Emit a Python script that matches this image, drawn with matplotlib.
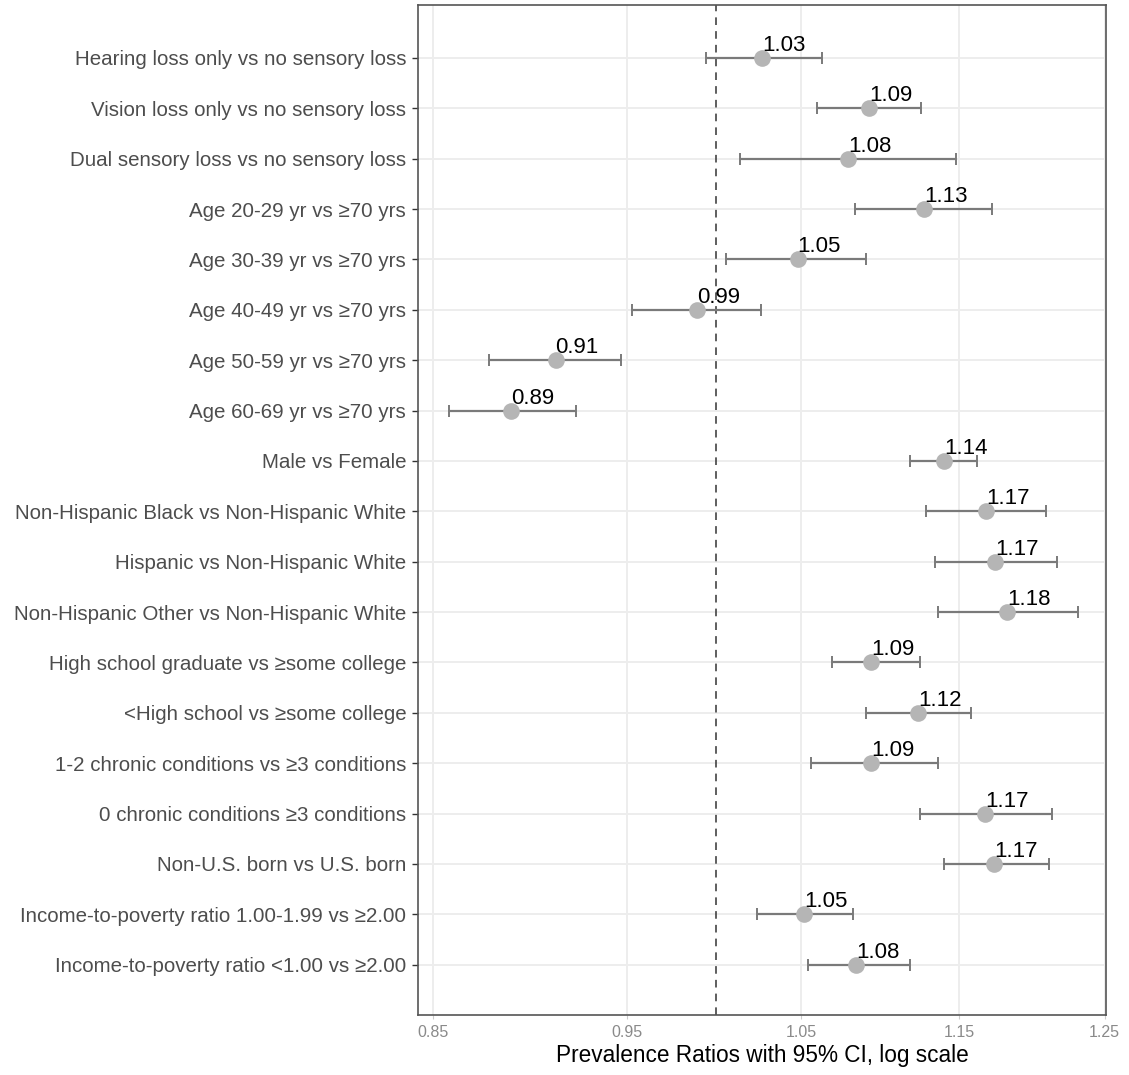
import matplotlib as mpl
from matplotlib import pyplot as plt
from matplotlib.ticker import NullLocator

mpl.rc('font', family=['Liberation Sans', 'DejaVu Sans'])

# Comparisons, top to bottom
labels = [
    "Hearing loss only vs no sensory loss",
    "Vision loss only vs no sensory loss",
    "Dual sensory loss vs no sensory loss",
    "Age 20-29 yr vs \u226570 yrs",
    "Age 30-39 yr vs \u226570 yrs",
    "Age 40-49 yr vs \u226570 yrs",
    "Age 50-59 yr vs \u226570 yrs",
    "Age 60-69 yr vs \u226570 yrs",
    "Male vs Female",
    "Non-Hispanic Black vs Non-Hispanic White",
    "Hispanic vs Non-Hispanic White",
    "Non-Hispanic Other vs Non-Hispanic White",
    "High school graduate vs \u2265some college",
    "<High school vs \u2265some college",
    "1-2 chronic conditions vs \u22653 conditions",
    "0 chronic conditions \u22653 conditions",
    "Non-U.S. born vs U.S. born",
    "Income-to-poverty ratio 1.00-1.99 vs \u22652.00",
    "Income-to-poverty ratio <1.00 vs \u22652.00",
]
pr = [1.027, 1.092, 1.079, 1.127, 1.048, 0.989, 0.912, 0.889, 1.140, 1.168,
      1.174, 1.182, 1.093, 1.123, 1.093, 1.167, 1.173, 1.052, 1.084]
ci_low = [0.994, 1.060, 1.014, 1.083, 1.006, 0.953, 0.878, 0.858, 1.118, 1.128,
          1.134, 1.136, 1.069, 1.090, 1.056, 1.124, 1.140, 1.024, 1.054]
ci_high = [1.063, 1.125, 1.148, 1.172, 1.090, 1.026, 0.947, 0.923, 1.162, 1.209,
           1.216, 1.231, 1.124, 1.158, 1.136, 1.213, 1.211, 1.082, 1.118]
pr_text = ["1.03", "1.09", "1.08", "1.13", "1.05", "0.99", "0.91", "0.89", "1.14", "1.17",
           "1.17", "1.18", "1.09", "1.12", "1.09", "1.17", "1.17", "1.05", "1.08"]
xticks = [0.85, 0.95, 1.05, 1.15, 1.25]

n = len(labels)
ypos = [n - i for i in range(n)]

fig = plt.figure(figsize=(11.29, 10.75), dpi=100)
ax = fig.add_axes([0.3702, 0.0558, 0.6094, 0.9395])

ax.set_xscale('log')
ax.set_xlim(0.8427, 1.251)
ax.set_ylim(0.0, n + 1.05)

# grid
for xt in xticks:
    ax.axvline(xt, color='#ededed', lw=1.4, zorder=0)
for y in ypos:
    ax.axhline(y, color='#ededed', lw=1.4, zorder=0)

ax.axvline(1.0, color='#333333', lw=1.1, linestyle=(0, (5, 4)), zorder=1)

xerr = [[p - lo for p, lo in zip(pr, ci_low)], [hi - p for p, hi in zip(pr, ci_high)]]
ax.errorbar(pr, ypos, xerr=xerr, fmt='none', ecolor='#7a7a7a', elinewidth=1.6,
            capsize=4.5, capthick=1.4, zorder=2)
ax.plot(pr, ypos, 'o', color='#b5b5b5', markersize=12, markeredgewidth=0, zorder=3)

for p, y, t in zip(pr, ypos, pr_text):
    ax.annotate(t, (p, y), xytext=(0, 5), textcoords='offset points',
                ha='left', va='baseline', fontsize=16, color='black', zorder=4)

ax.set_yticks(ypos)
ax.set_yticklabels(labels)
ax.set_xticks(xticks)
ax.set_xticklabels(["%.2f" % v for v in xticks])
ax.xaxis.set_minor_locator(NullLocator())
ax.tick_params(axis='y', labelsize=14.8, labelcolor='#4d4d4d', color='#333333',
               length=4, width=1, pad=4.5)
ax.tick_params(axis='x', labelsize=11.5, labelcolor='#8a8a8a', color='#cccccc',
               length=3, width=0.8, pad=4)
ax.set_xlabel("Prevalence Ratios with 95% CI, log scale", fontsize=16.3,
              color='black', labelpad=3)

for s in ax.spines.values():
    s.set_color('#555555')
    s.set_linewidth(1.2)

fig.savefig("out.png", dpi=100)
